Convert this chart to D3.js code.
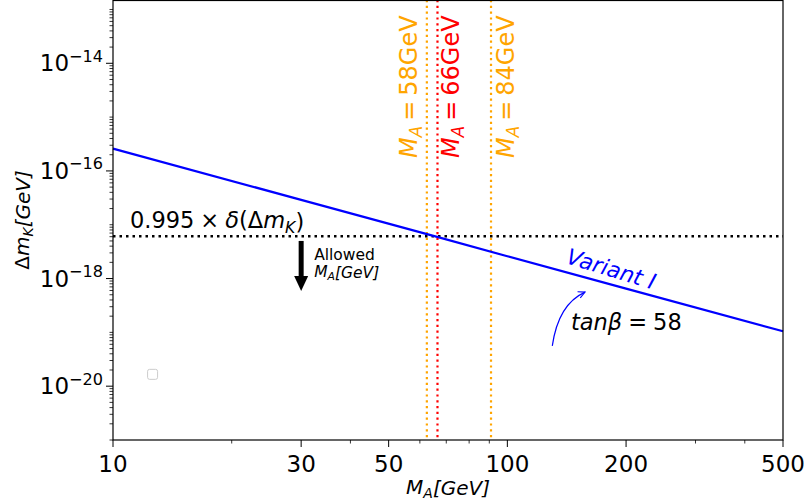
<!DOCTYPE html>
<html>
<head>
<meta charset="utf-8">
<script src="https://cdn.jsdelivr.net/npm/d3@7"></script>
<style>
  body { margin: 0; background: #fff; }
  svg { display: block; font-family: "DejaVu Sans", sans-serif; }
</style>
</head>
<body>
<div id="chart"></div>
<script>
// axis ranges and ticks
const xDomain = [10, 500];
const yDomain = [1e-21, 1.5e-13];
const xTickValues = [10, 30, 50, 100, 200, 500];
const xMinorValues = [20, 40, 60, 70, 80, 90, 300, 400];
const yMajorValues = [1e-20, 1e-18, 1e-16, 1e-14];
const yMajorExp = ["−20", "−18", "−16", "−14"];

// Variant I curve, tan(beta) = 58
const massPoints = [10, 30, 66, 100, 200, 500];
const deltaMK = [2.6e-16, 2.9e-17, 6.0e-18, 2.6e-18, 6.5e-19, 1.05e-19];

// experimental bound
const boundValue = 6.1e-18;

// vertical mass markers
const lineMasses = [62.5, 66.5, 90.9];
const lineLabels = ["58", "66", "84"];
const lineColors = ["#FFA500", "#FF0000", "#FFA500"];
const labelMasses = [59, 75.4, 104];

const W = 807, H = 504;
const margin = { top: 0, right: 24, bottom: 64, left: 113 };

const svg = d3.select("#chart").append("svg")
  .attr("width", W).attr("height", H);

const x = d3.scaleLog().domain(xDomain).range([margin.left, W - margin.right]);
const y = d3.scaleLog().domain(yDomain).range([H - margin.bottom, margin.top]);

// helper for mathtext-ish labels
function rich(sel, parts, size) {
  parts.forEach((p) => {
    const t = sel.append("tspan").text(p.t);
    if (p.i) t.attr("font-style", "italic");
    if (p.sub) t.attr("font-size", size * 0.7).attr("dy", size * 0.22);
    if (p.sup) t.attr("font-size", size * 0.7).attr("dy", -size * 0.42);
    if (p.back) t.attr("dy", p.back * size);
    if (p.dx) t.attr("dx", p.dx);
  });
  return sel;
}

const plot = svg.append("g");

// minor ticks
const yMinor = [];
for (let e = -21; e <= -13; e++) {
  for (let k = 1; k <= 9; k++) {
    const v = k * Math.pow(10, e);
    if (v < yDomain[0] || v > yDomain[1]) continue;
    if (k === 1 && e % 2 === 0 && e >= -20 && e <= -14) continue;
    yMinor.push(v);
  }
}

const axisG = svg.append("g");
axisG.selectAll(".yminor").data(yMinor).join("line")
  .attr("x1", margin.left).attr("x2", margin.left - 3.5)
  .attr("y1", (d) => y(d)).attr("y2", (d) => y(d))
  .attr("stroke", "#000").attr("stroke-width", 0.8);
axisG.selectAll(".ymajor").data(yMajorValues).join("line")
  .attr("x1", margin.left).attr("x2", margin.left - 7)
  .attr("y1", (d) => y(d)).attr("y2", (d) => y(d))
  .attr("stroke", "#000").attr("stroke-width", 1);
axisG.selectAll(".xminor").data(xMinorValues).join("line")
  .attr("y1", H - margin.bottom).attr("y2", H - margin.bottom + 3.5)
  .attr("x1", (d) => x(d)).attr("x2", (d) => x(d))
  .attr("stroke", "#000").attr("stroke-width", 0.8);
axisG.selectAll(".xmajor").data(xTickValues).join("line")
  .attr("y1", H - margin.bottom).attr("y2", H - margin.bottom + 7)
  .attr("x1", (d) => x(d)).attr("x2", (d) => x(d))
  .attr("stroke", "#000").attr("stroke-width", 1);

// tick labels
axisG.selectAll(".xlab").data(xTickValues).join("text")
  .attr("x", (d) => x(d)).attr("y", H - margin.bottom + 32)
  .attr("text-anchor", "middle").attr("font-size", 23)
  .text((d) => d);

yMajorValues.forEach((v, i) => {
  const t = axisG.append("text")
    .attr("x", margin.left - 10).attr("y", y(v) + 8)
    .attr("text-anchor", "end").attr("font-size", 23);
  rich(t, [{ t: "10" }, { t: yMajorExp[i], sup: true }], 23);
});

// axis titles
const xt = svg.append("text")
  .attr("x", (margin.left + W - margin.right) / 2).attr("y", H - 10)
  .attr("text-anchor", "middle").attr("font-size", 20);
rich(xt, [{ t: "M", i: true }, { t: "A", i: true, sub: true }, { t: "[GeV]", i: true, back: -0.15 }], 20);

const yt = svg.append("text")
  .attr("transform", `translate(29,220) rotate(-90)`)
  .attr("text-anchor", "middle").attr("font-size", 20);
rich(yt, [{ t: "Δ" }, { t: "m", i: true }, { t: "K", i: true, sub: true }, { t: "[GeV]", i: true, back: -0.15 }], 20);

// vertical mass lines
lineMasses.forEach((m, i) => {
  plot.append("line")
    .attr("x1", x(m)).attr("x2", x(m))
    .attr("y1", y(yDomain[1])).attr("y2", y(yDomain[0]))
    .attr("stroke", lineColors[i]).attr("stroke-width", 2.2)
    .attr("stroke-dasharray", "2.2,3.6");
  const t = plot.append("text")
    .attr("transform", `translate(${x(labelMasses[i])},${y(1.74e-16)}) rotate(-90)`)
    .attr("font-size", 24).attr("fill", lineColors[i]);
  rich(t, [{ t: "M", i: true }, { t: "A", i: true, sub: true },
    { t: "=", back: -0.22, dx: 5 }, { t: lineLabels[i] + "GeV", dx: 5 }], 24);
});

// bound line
plot.append("line")
  .attr("x1", x(xDomain[0])).attr("x2", x(xDomain[1]))
  .attr("y1", y(boundValue)).attr("y2", y(boundValue))
  .attr("stroke", "#000").attr("stroke-width", 2.5)
  .attr("stroke-dasharray", "2.5,4");

const bt = plot.append("text")
  .attr("x", x(11.04)).attr("y", y(8.7e-18))
  .attr("font-size", 22.5);
rich(bt, [{ t: "0.995" }, { t: "×", dx: 6 }, { t: "δ", i: true, dx: 6 }, { t: "(Δ" }, { t: "m", i: true }, { t: "K", i: true, sub: true }, { t: ")", back: -0.15 }], 22.5);

// allowed arrow
const ax = x(30), ay0 = y(5e-18), ay1 = y(5.9e-19);
plot.append("line")
  .attr("x1", ax).attr("x2", ax).attr("y1", ay0).attr("y2", ay1 - 14)
  .attr("stroke", "#000").attr("stroke-width", 5);
plot.append("path")
  .attr("d", `M${ax - 7},${ay1 - 15} L${ax + 7},${ay1 - 15} L${ax},${ay1} Z`)
  .attr("fill", "#000");
plot.append("text").attr("x", ax + 13).attr("y", y(5e-18) + 19)
  .attr("font-size", 15.5).text("Allowed");
const at = plot.append("text").attr("x", ax + 13).attr("y", y(5e-18) + 36)
  .attr("font-size", 15.5);
rich(at, [{ t: "M", i: true }, { t: "A", i: true, sub: true }, { t: "[GeV]", i: true, back: -0.15 }], 15.5);

// curve
const curve = massPoints.map((m, i) => [m, deltaMK[i]]);
plot.append("path").datum(curve)
  .attr("d", d3.line().x((d) => x(d[0])).y((d) => y(d[1])))
  .attr("fill", "none").attr("stroke", "#0000FF").attr("stroke-width", 2.2);

svg.append("text")
  .attr("transform", `translate(${x(181)},${y(1.1e-18)}) rotate(17)`)
  .attr("text-anchor", "middle").attr("font-size", 22)
  .attr("font-style", "italic").attr("fill", "#0000FF")
  .text("Variant I");

// tan beta annotation
const tb = svg.append("text").attr("x", x(145)).attr("y", y(1.09e-19))
  .attr("font-size", 22.5);
rich(tb, [{ t: "tanβ", i: true }, { t: "=", dx: 6 }, { t: "58", dx: 6 }], 22.5);

const sx = x(130), sy = y(5.6e-20), ex = x(157.4), ey = y(5.6e-19);
svg.append("defs").append("marker")
  .attr("id", "head").attr("viewBox", "0 0 10 10")
  .attr("refX", 9).attr("refY", 5)
  .attr("markerWidth", 7).attr("markerHeight", 7)
  .attr("orient", "auto")
  .append("path").attr("d", "M1,1 L9,5 L1,9").attr("fill", "none")
  .attr("stroke", "#0000FF").attr("stroke-width", 1.3);
svg.append("path")
  .attr("d", `M${sx},${sy} Q${sx + 6},${ey + 12} ${ex},${ey}`)
  .attr("fill", "none").attr("stroke", "#0000FF").attr("stroke-width", 1.2)
  .attr("marker-end", "url(#head)");

// empty legend box
svg.append("rect")
  .attr("x", x(12.6) - 5).attr("y", y(1.66e-20) - 5)
  .attr("width", 10).attr("height", 10).attr("rx", 2)
  .attr("fill", "none").attr("stroke", "#cccccc").attr("stroke-width", 1);

// frame
svg.append("rect")
  .attr("x", margin.left).attr("y", margin.top + 0.5)
  .attr("width", W - margin.right - margin.left)
  .attr("height", H - margin.bottom - margin.top - 0.5)
  .attr("fill", "none").attr("stroke", "#000").attr("stroke-width", 1.2);
</script>
</body>
</html>
